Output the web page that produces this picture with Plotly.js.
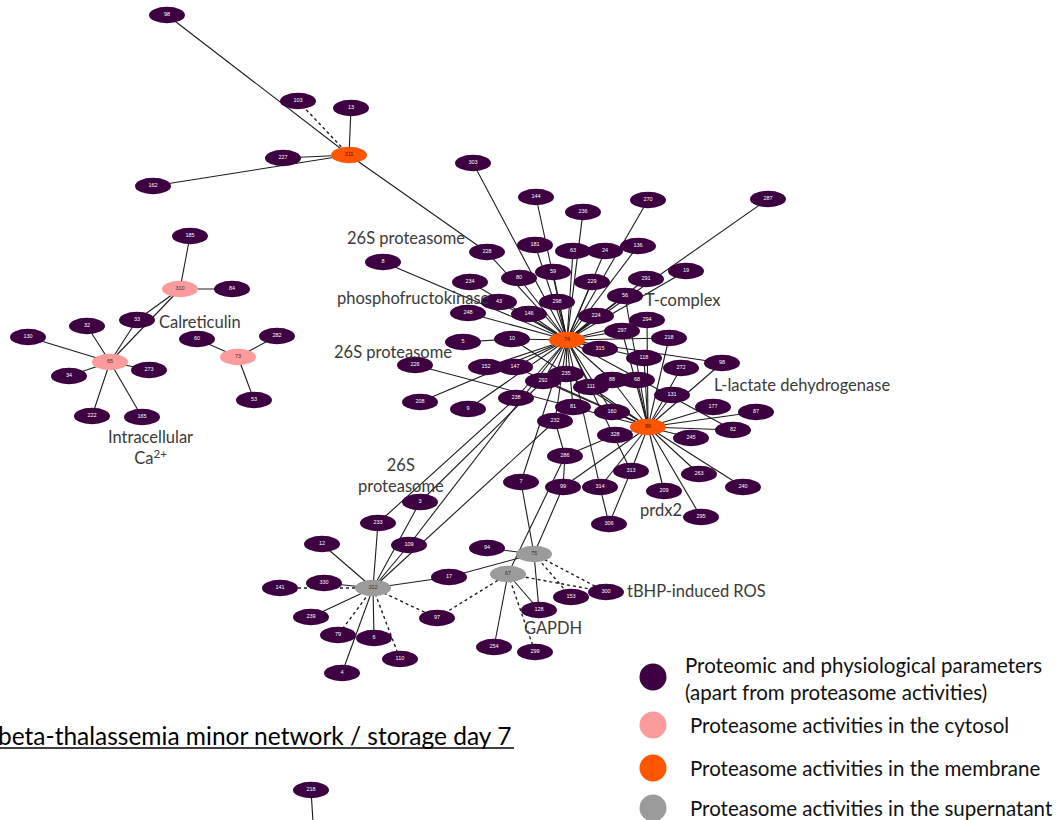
<!DOCTYPE html>
<html><head><meta charset="utf-8">
<script src="https://cdn.plot.ly/plotly-3.0.1.min.js"></script>
<style>html,body{margin:0;padding:0;background:#fff}#chart{width:1060px;height:820px}</style>
</head><body><div id="chart"></div>
<script>
// ---- DATA ----
const nodeIds = ["98a","103","13","311","227","162",
 "185","310","84","33","32","130","65","34","273","222","165","60","73","282","53",
 "303","144","236","270","287","181","63","24","136","228","8","59","80","229","234","291","19",
 "43","298","56","248","146","224","294","297","5","10","74","315","218a","118","272","98b",
 "226","152","147","235","292","111","88","68","131","208","9","238","81","160","177","87",
 "232","328","96","82","245","286","313","263","7","99","314","240","209","295","306",
 "3","233","12","109","94","75","17","67","141","330","312","153","300","239","97","128",
 "79","6","110","4","254","299","218b","below"];
const nodeLabels = ["98","103","13","311","227","162",
 "185","310","84","33","32","130","65","34","273","222","165","60","73","282","53",
 "303","144","236","270","287","181","63","24","136","228","8","59","80","229","234","291","19",
 "43","298","56","248","146","224","294","297","5","10","74","315","218","118","272","98",
 "226","152","147","235","292","111","88","68","131","208","9","238","81","160","177","87",
 "232","328","96","82","245","286","313","263","7","99","314","240","209","295","306",
 "3","233","12","109","94","75","17","67","141","330","312","153","300","239","97","128",
 "79","6","110","4","254","299","218",null];
const nodeX = [167,298,351,349,283,153,
 190,180,232,137,87,28,110,69,149,92,142,197,238,277,254,
 473,536,583,648,768,535,573,605,638,487,383,553,519,592,470,646,686,
 499,557,625,468,529,596,647,622,463,512,567,600,669,644,681,722,
 415,486,515,566,543,591,612,637,672,420,468,516,573,612,713,756,
 555,615,648,733,691,565,631,699,521,563,600,743,664,701,609,
 420,378,322,409,487,534,449,508,280,324,373,571,606,311,437,539,
 338,374,400,342,494,535,311,316];
const nodeY = [15,101,108,155,158,186,
 236,289,289,320,326,337,362,376,370,416,417,339,357,336,400,
 163,197,212,200,199,245,251,251,246,252,262,272,278,282,282,279,271,
 302,302,296,313,314,316,320,331,342,339,340,349,338,358,368,363,
 365,367,367,374,381,387,380,380,395,402,409,398,407,412,407,412,
 421,435,427,430,438,456,471,474,482,487,487,487,491,517,524,
 502,523,544,545,548,554,577,574,588,583,588,597,592,617,618,610,
 635,638,659,673,647,652,790,870];
// 0 = proteomic/physiological, 1 = cytosol, 2 = membrane, 3 = supernatant
const nodeGroup = [0,0,0,2,0,0,
 0,1,0,0,0,0,1,0,0,0,0,0,1,0,0,
 0,0,0,0,0,0,0,0,0,0,0,0,0,0,0,0,0,
 0,0,0,0,0,0,0,0,0,0,2,0,0,0,0,0,
 0,0,0,0,0,0,0,0,0,0,0,0,0,0,0,0,
 0,0,2,0,0,0,0,0,0,0,0,0,0,0,0,
 0,0,0,0,0,3,0,3,0,0,3,0,0,0,0,0,
 0,0,0,0,0,0,0,0];
const solidEdges = [
 ["98a","311"],["311","228"],["13","311"],["227","311"],["162","311"],
 ["185","310"],["310","84"],["310","65"],["33","310"],["33","65"],
 ["65","130"],["65","32"],["65","34"],["65","273"],["65","222"],["65","165"],
 ["73","60"],["73","282"],["73","53"],
 ["303","74"],["144","74"],["236","74"],["181","74"],["63","74"],["24","74"],["136","74"],
 ["270","74"],["287","74"],["19","74"],["291","74"],["56","74"],["229","74"],["224","74"],
 ["59","74"],["80","74"],["146","74"],["43","74"],["298","74"],["228","74"],["248","74"],
 ["8","74"],["234","74"],["10","74"],["5","10"],["147","74"],["208","74"],["9","74"],
 ["292","74"],["235","74"],["111","74"],["88","74"],["315","74"],["297","74"],["294","74"],
 ["118","74"],["218a","74"],["238","74"],["81","74"],["232","74"],["160","74"],["7","74"],
 ["98b","74"],["82","74"],["314","74"],["313","74"],["152","74"],
 ["226","96"],["98b","96"],["272","96"],["131","96"],["177","96"],["87","96"],["82","96"],
 ["245","96"],["263","96"],["240","96"],["209","96"],["295","96"],["313","96"],["328","96"],
 ["160","96"],["68","96"],["88","96"],["111","96"],["118","96"],["294","96"],["297","96"],
 ["56","96"],["99","96"],["314","96"],["292","96"],["147","96"],["10","96"],["218a","96"],
 ["286","99"],["286","328"],["232","286"],["314","306"],["313","306"],
 ["312","233"],["312","12"],["312","330"],["312","17"],["312","239"],["312","6"],["312","4"],
 ["312","109"],["312","3"],["233","238"],["3","292"],["109","74"],["312","232"],
 ["75","7"],["75","99"],["75","94"],["75","17"],["75","128"],
 ["67","286"],["67","128"],["67","254"],["218b","below"]
];
const dashedEdges = [
 ["103","311"],["312","141"],["312","97"],["312","79"],["312","110"],
 ["75","300"],["75","153"],["67","300"],["67","299"],["67","97"]
];
const groupNames = ["Proteomic and physiological parameters<br>(apart from proteasome activities)",
 "Proteasome activities in the cytosol","Proteasome activities in the membrane",
 "Proteasome activities in the supernatant"];
const groupColors = ["#3d0041","#fb9b9b","#ff5500","#9b9b9b"];
const groupTextColors = ["#ffffff","#4a3030","#3a1a00","#333333"];
const noteTexts = ["26S proteasome","phosphofructokinase","26S proteasome","T-complex",
 "L-lactate dehydrogenase","26S<br>proteasome","tBHP-induced ROS","GAPDH","prdx2",
 "Calreticulin","Intracellular<br>Ca<sup>2+</sup>"];
const noteX = [406,413,393,683,802,401,696,553,661,200,150];
const noteY = [238,298,352,300,385,475,591,628,510,322,447];
const titleText = "beta-thalassemia minor network / storage day 7";

// ---- BUILD ----
const idx = {}; nodeIds.forEach((id,i)=>idx[id]=i);
const shapes = [];
function edgeShape(e, dashed){
  const a = idx[e[0]], b = idx[e[1]];
  return {type:'line', xref:'x', yref:'y', x0:nodeX[a], y0:nodeY[a], x1:nodeX[b], y1:nodeY[b],
    line:{color:'#1c1c1c', width: dashed?1.4:1.1, dash: dashed?'dot':'solid'}, layer:'below'};
}
solidEdges.forEach(e=>shapes.push(edgeShape(e,false)));
dashedEdges.forEach(e=>shapes.push(edgeShape(e,true)));
const RX = 18, RY = 8.2;
const shown = nodeIds.map((id,i)=>i).filter(i=>nodeLabels[i]);
shown.forEach(i=>{
  shapes.push({type:'circle', xref:'x', yref:'y', x0:nodeX[i]-RX, x1:nodeX[i]+RX,
    y0:nodeY[i]-RY, y1:nodeY[i]+RY, fillcolor:groupColors[nodeGroup[i]],
    line:{width:0}, layer:'below'});
});
// title underline
shapes.push({type:'line', xref:'paper', yref:'paper', x0:0, x1:514/1060, y0:1-748/820, y1:1-748/820,
  line:{color:'#000', width:1.5}});

const labelTrace = {type:'scatter', mode:'text',
  x:shown.map(i=>nodeX[i]), y:shown.map(i=>nodeY[i]), text:shown.map(i=>nodeLabels[i]),
  textfont:{family:'Liberation Sans, Arial, sans-serif', size:5.5,
    color:shown.map(i=>groupTextColors[nodeGroup[i]])},
  hoverinfo:'none', showlegend:false, cliponaxis:true};

const legY = [677,725,768,808];
const legendTrace = {type:'scatter', mode:'markers', x:groupNames.map(()=>653), y:legY,
  marker:{size:27, color:groupColors}, hoverinfo:'none', showlegend:false, cliponaxis:false};

const annotations = [];
noteTexts.forEach((t,i)=>annotations.push({x:noteX[i], y:noteY[i], xref:'x', yref:'y', text:t,
  showarrow:false, font:{family:'Lato, sans-serif', size:16.5, color:'#3a3a3a'}}));
const legTextX = [683,688,688,688];
groupNames.forEach((t,i)=>annotations.push({x:legTextX[i], y:legY[i]+(i===0?1:0), xref:'x', yref:'y',
  text:t, showarrow:false, xanchor:'left', align:'left',
  font:{family:'Lato, sans-serif', size:20.5, color:'#111'}}));
annotations.push({x:-4/1060, y:1-735/820, xref:'paper', yref:'paper', text:titleText,
  showarrow:false, xanchor:'left', yanchor:'middle',
  font:{family:'Lato, sans-serif', size:24.5, color:'#000'}});

const layout = {width:1060, height:820, autosize:false, margin:{l:0,r:0,t:0,b:0,pad:0},
  paper_bgcolor:'#fff', plot_bgcolor:'#fff', showlegend:false,
  xaxis:{range:[0,1060], visible:false, fixedrange:true},
  yaxis:{range:[820,0], visible:false, fixedrange:true},
  shapes:shapes, annotations:annotations};
Plotly.newPlot('chart',[labelTrace, legendTrace], layout, {staticPlot:true, displayModeBar:false});
</script></body></html>
